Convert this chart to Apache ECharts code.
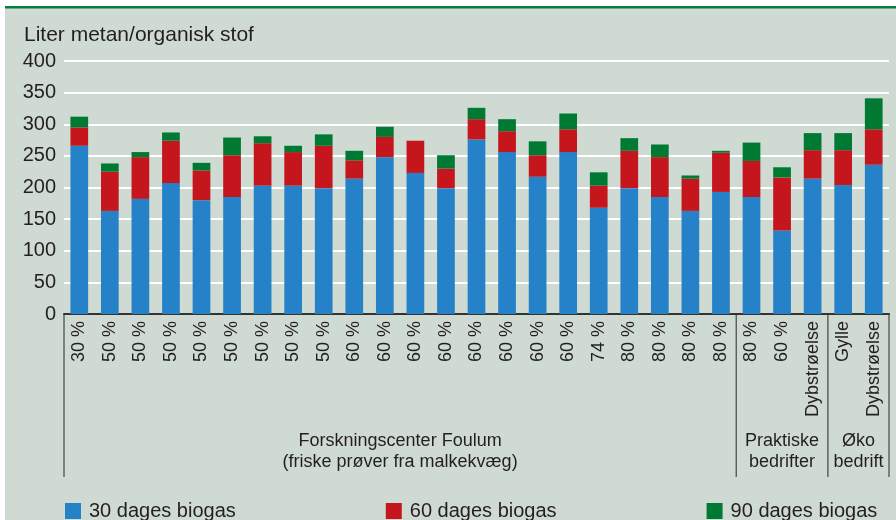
<!DOCTYPE html>
<html lang="da">
<head>
<meta charset="UTF-8">
<title>Liter metan/organisk stof</title>
<script src="https://cdn.jsdelivr.net/npm/echarts@6/dist/echarts.min.js"></script>
<style>
  html,body{margin:0;padding:0;background:#fff;}
  #main{width:896px;height:520px;}
</style>
</head>
<body>
<div id="main"></div>
<script>
  // kategorier (x-akse)
  const categories = ['30 %','50 %','50 %','50 %','50 %','50 %','50 %','50 %','50 %',
    '60 %','60 %','60 %','60 %','60 %','60 %','60 %','60 %','74 %',
    '80 %','80 %','80 %','80 %',
    '80 %','60 %','Dybstrøelse',
    'Gylle','Dybstrøelse'];

  // grupper under aksen: [tekst, første indeks, indeks efter sidste]
  const groups = [
    ['Forskningscenter Foulum\n(friske prøver fra malkekvæg)', 0, 22],
    ['Praktiske\nbedrifter', 22, 25],
    ['Øko\nbedrift', 25, 27]
  ];

  const seriesNames = ['30 dages biogas','60 dages biogas','90 dages biogas'];

  // 30 dage, samt tilvækst 30->60 og 60->90 dage
  const biogas30 = [266,163,182,207,180,185,203,203,199,214,248,223,199,276,256,217,256,168,199,185,163,193,185,132,214,204,236];
  const extra60  = [29,62,66,67,47,66,67,53,67,29,32,51,31,32,33,34,36,35,59,63,51,62,57,84,45,55,56];
  const extra90  = [17,13,8,13,12,28,11,10,18,15,16,0,21,18,19,22,25,21,20,20,5,3,29,16,27,27,49];

  const yMin = 0, yMax = 400, yStep = 50;

  const colors = ['#2682c8','#c4161c','#007a33'];
  const txt = '#231f20';
  const font = 'Liberation Sans, Arial, sans-serif';

  const chart = echarts.init(document.getElementById('main'));

  const option = {
    backgroundColor: '#cfdbd2',
    animation: false,
    textStyle: {fontFamily: font},
    title: {
      text: 'Liter metan/organisk stof',
      left: 19, top: 20,
      textStyle: {fontSize: 21, fontWeight: 'normal', color: txt, fontFamily: font}
    },
    legend: {
      left: 60, top: 496,
      itemWidth: 16, itemHeight: 16, itemGap: 150,
      icon: 'rect',
      textStyle: {fontSize: 20, color: txt, fontFamily: font, padding: [0,0,0,3]},
      data: seriesNames
    },
    grid: {left: 64, right: 7, top: 61, bottom: 206, containLabel: false},
    xAxis: {
      type: 'category',
      data: categories,
      axisLine: {show: true, lineStyle: {color: '#333', width: 2}},
      axisTick: {show: false},
      axisLabel: {
        interval: 0, rotate: 90, margin: 7,
        fontSize: 18, color: txt, fontFamily: font
      },
      splitLine: {show: false}
    },
    yAxis: {
      type: 'value',
      min: yMin, max: yMax, interval: yStep,
      axisLine: {show: false},
      axisTick: {show: false},
      axisLabel: {fontSize: 20, color: txt, margin: 8, fontFamily: font},
      splitLine: {show: true, lineStyle: {color: '#ffffff', width: 2}}
    },
    series: [
      {name: seriesNames[0], type: 'bar', stack: 'b', barWidth: '58%', data: biogas30, itemStyle: {color: colors[0]}},
      {name: seriesNames[1], type: 'bar', stack: 'b', data: extra60, itemStyle: {color: colors[1]}},
      {name: seriesNames[2], type: 'bar', stack: 'b', data: extra90, itemStyle: {color: colors[2]}}
    ]
  };
  chart.setOption(option);

  // gruppelinjer og -tekster under aksen, ud fra aksens egne koordinater
  const x0 = chart.convertToPixel({xAxisIndex: 0}, 0);
  const band = chart.convertToPixel({xAxisIndex: 0}, 1) - x0;
  const edge = b => x0 - band / 2 + b * band;
  const axisY = chart.convertToPixel({yAxisIndex: 0}, 0);
  const lineBottom = 477;

  const graphic = [
    {type: 'rect', shape: {x: 0, y: 0, width: 896, height: 6}, style: {fill: '#fff'}},
    {type: 'rect', shape: {x: 0, y: 0, width: 5, height: 520}, style: {fill: '#fff'}},
    {type: 'rect', shape: {x: 5, y: 6, width: 891, height: 2.5}, style: {fill: '#0b7d3b'}}
  ];
  const bounds = [0];
  groups.forEach(g => bounds.push(g[2]));
  bounds.forEach(b => {
    graphic.push({
      type: 'line',
      shape: {x1: edge(b), y1: axisY, x2: edge(b), y2: lineBottom},
      style: {stroke: '#444', lineWidth: 1.2}
    });
  });
  groups.forEach(g => {
    graphic.push({
      type: 'text',
      x: (edge(g[1]) + edge(g[2])) / 2, y: 452,
      style: {
        text: g[0], fill: txt, font: '18px ' + font,
        align: 'center', verticalAlign: 'middle', lineHeight: 21
      }
    });
  });
  chart.setOption({graphic: graphic});
</script>
</body>
</html>
